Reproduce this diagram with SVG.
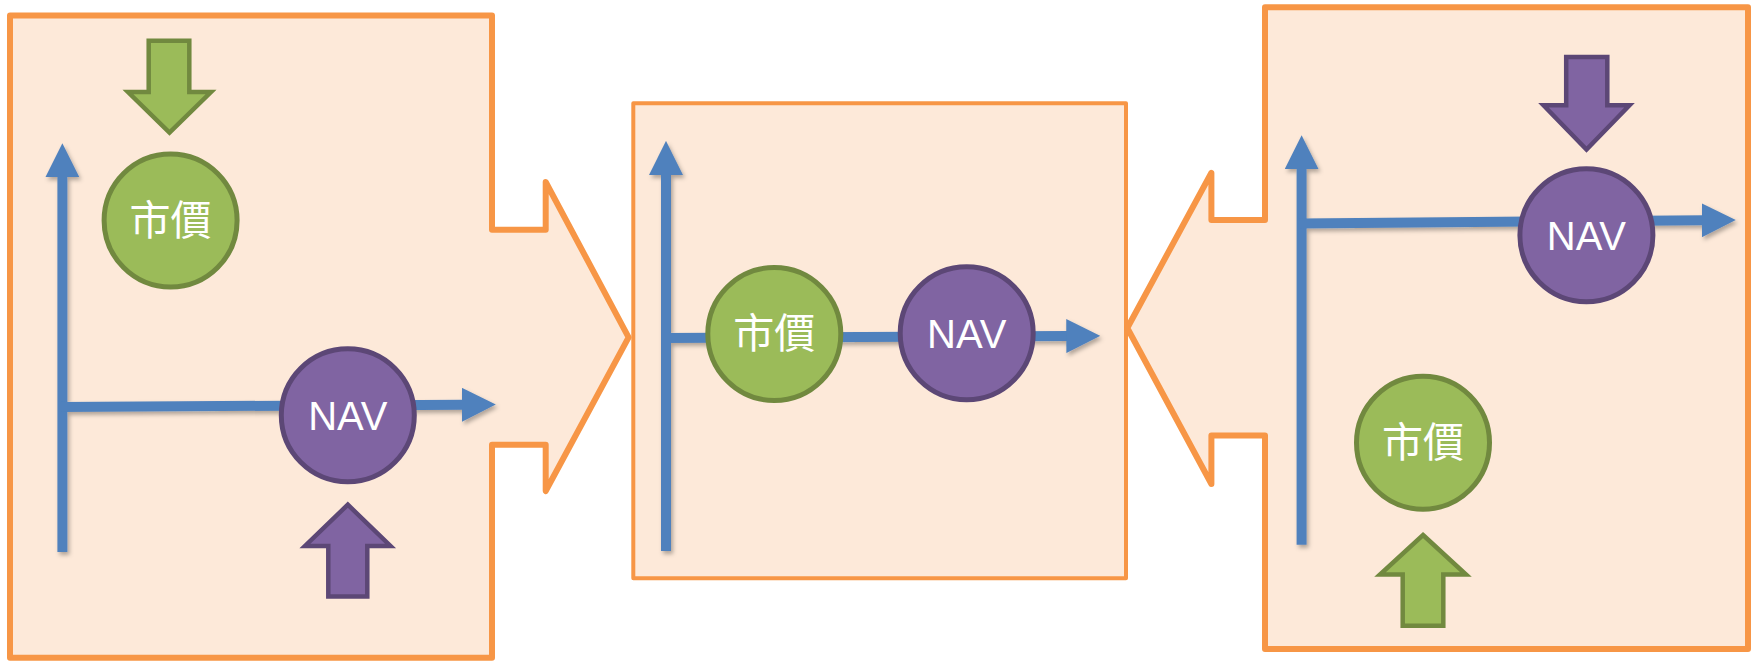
<svg xmlns="http://www.w3.org/2000/svg" width="1757" height="661" viewBox="0 0 1757 661">
<defs>
<style>
.callout{fill:#FDE9D9;stroke:#F79646;stroke-linejoin:round}
.axis{stroke:#4F81BD;stroke-width:10;fill:none;marker-end:url(#ah)}
.gcirc{fill:#9BBB59;stroke:#71893F;stroke-width:5}
.pcirc{fill:#8064A2;stroke:#5C4776;stroke-width:5}
.garrow{fill:#9BBB59;stroke:#71893F;stroke-width:4.5}
.parrow{fill:#8064A2;stroke:#5C4776;stroke-width:4.5}
.cjk{font-family:"Noto Sans CJK TC","Noto Sans CJK SC",sans-serif;font-size:41px;fill:#FFFFFF;text-anchor:middle}
.nav{font-family:"Liberation Sans",Arial,sans-serif;font-size:40px;fill:#FFFFFF;text-anchor:middle}
</style>
<marker id="ah" markerUnits="userSpaceOnUse" markerWidth="34" markerHeight="34" viewBox="0 0 31 31" refX="2" refY="15.5" orient="auto">
<path d="M0,0 L31,15.5 L0,31 z" fill="#4F81BD"/>
</marker>
<filter id="sh" x="-20%" y="-20%" width="140%" height="140%">
<feDropShadow dx="2" dy="3" stdDeviation="2" flood-color="#000" flood-opacity="0.3"/>
</filter>
</defs>

<g id="panel-left">
<polygon class="callout" stroke-width="6" points="10,15.6 492,15.6 492,229.8 545.7,229.8 545.7,182 628.6,337.3 545.7,491 545.7,444.8 492,444.8 492,657.7 10,657.7"/>
</g>
<g id="panel-middle">
<rect class="callout" stroke-width="4" x="633.3" y="103.3" width="492.7" height="475"/>
</g>
<g id="panel-right">
<polygon class="callout" stroke-width="6" points="1265,7.2 1748,7.2 1748,649 1265,649 1265,435.5 1211.4,435.5 1211.4,484 1127.3,328 1211.4,172.8 1211.4,220 1265,220"/>
</g>

<g id="connectors" filter="url(#sh)">
<line class="axis" x1="62.4" y1="552" x2="62.4" y2="175"/>
<line class="axis" x1="60" y1="407" x2="464" y2="404.7"/>
<line class="axis" x1="666" y1="551" x2="666" y2="172.7"/>
<line class="axis" x1="664" y1="338" x2="1068.5" y2="336"/>
<line class="axis" x1="1301.6" y1="544.7" x2="1301.6" y2="167"/>
<line class="axis" x1="1300" y1="223.4" x2="1704" y2="220.2"/>
</g>

<g id="left-green-arrow">
<polygon class="garrow" points="148.7,40.7 189.3,40.7 189.3,92 211,92 169.5,132.5 128,92 148.7,92"/>
</g>
<g id="left-price">
<circle class="gcirc" cx="170.6" cy="220.5" r="66.5"/>
<text class="cjk" x="170.6" y="234.5">市價</text>
</g>
<g id="left-nav">
<circle class="pcirc" cx="347.8" cy="415.3" r="66.5"/>
<text class="nav" x="347.8" y="429.8">NAV</text>
</g>
<g id="left-purple-arrow">
<polygon class="parrow" points="347.8,504.7 390.5,546 367.3,546 367.3,596.4 328.3,596.4 328.3,546 305,546"/>
</g>

<g id="mid-price">
<circle class="gcirc" cx="774.3" cy="334" r="66.5"/>
<text class="cjk" x="774.3" y="348">市價</text>
</g>
<g id="mid-nav">
<circle class="pcirc" cx="966.7" cy="333.3" r="66.5"/>
<text class="nav" x="966.7" y="347.8">NAV</text>
</g>

<g id="right-purple-arrow">
<polygon class="parrow" points="1566.2,57 1607.3,57 1607.3,105.3 1629.5,105.3 1586.5,149.6 1543.5,105.3 1566.2,105.3"/>
</g>
<g id="right-nav">
<circle class="pcirc" cx="1586.4" cy="235.2" r="66.5"/>
<text class="nav" x="1586.4" y="249.7">NAV</text>
</g>
<g id="right-price">
<circle class="gcirc" cx="1423" cy="442.7" r="66.5"/>
<text class="cjk" x="1423" y="456.7">市價</text>
</g>
<g id="right-green-arrow">
<polygon class="garrow" points="1423,535 1466,574.5 1443.3,574.5 1443.3,625.8 1402.7,625.8 1402.7,574.5 1380,574.5"/>
</g>
</svg>
